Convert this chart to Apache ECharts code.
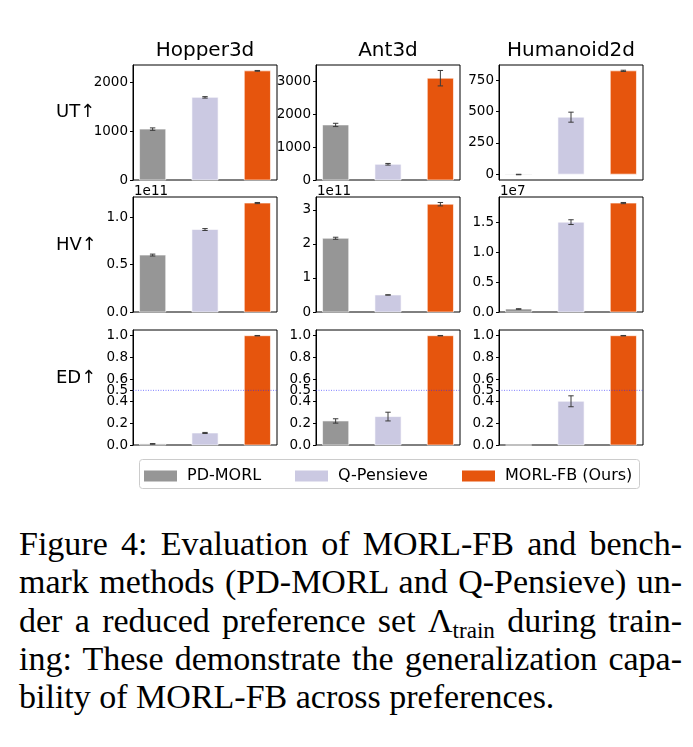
<!DOCTYPE html>
<html>
<head>
<meta charset="utf-8">
<script src="https://cdn.jsdelivr.net/npm/echarts@6/dist/echarts.min.js"></script>
<style>
  html, body { margin: 0; padding: 0; background: #fff; }
  #chart { position: absolute; left: 0; top: 0; width: 693px; height: 505px; }
  #caption {
    position: absolute; left: 19px; top: 525px; width: 663px;
    font-family: "Liberation Serif", serif; font-size: 34px; line-height: 38.3px; color: #000;
  }
  #caption div { white-space: nowrap; text-align: justify; text-align-last: justify; }
  #caption div.last { text-align-last: left; }
  #caption sub { font-size: 0.68em; vertical-align: -0.28em; line-height: 0; }
</style>
</head>
<body>
<div id="chart"></div>
<div id="caption">
  <div>Figure 4: Evaluation of MORL-FB and bench-</div>
  <div>mark methods (PD-MORL and Q-Pensieve) un-</div>
  <div>der a reduced preference set Λ<sub>train</sub> during train-</div>
  <div>ing: These demonstrate the generalization capa-</div>
  <div class="last">bility of MORL-FB across preferences.</div>
</div>
<script>
const envs = ["Hopper3d", "Ant3d", "Humanoid2d"];
const methods = ["PD-MORL", "Q-Pensieve", "MORL-FB (Ours)"];
const metricLabels = ["UT↑", "HV↑", "ED↑"];
const colors = ["#969696", "#cbc9e2", "#e6550d"];

// [env][method]
const utMean = [[1045, 1697, 2241], [1677, 479, 3100], [-3, 455, 825]];
const utErr = [[25, 15, 8], [50, 25, 235], [2, 40, 5]];
const hvMean = [[0.602, 0.872, 1.152], [2.165, 0.50, 3.165], [0.05, 1.508, 1.828]];
const hvErr = [[0.01, 0.01, 0.006], [0.03, 0.005, 0.05], [0.005, 0.04, 0.01]];
const edMean = [[0.01, 0.11, 1.0], [0.22, 0.26, 1.0], [0, 0.40, 1.0]];
const edErr = [[0.003, 0.005, 0.002], [0.02, 0.04, 0.002], [0, 0.05, 0.002]];
const hvScale = ["1e11", "1e11", "1e7"];

const utTicks = [[0, 1000, 2000], [0, 1000, 2000, 3000], [0, 250, 500, 750]];
const hvTicks = [[0, 0.5, 1.0], [0, 1, 2, 3], [0, 0.5, 1.0, 1.5]];
const edTicks = [0, 0.2, 0.4, 0.5, 0.6, 0.8, 1.0];
const edRef = 0.5;

const rows = [
  { mean: utMean, err: utErr, ticks: utTicks, dec: [0, 0, 0] },
  { mean: hvMean, err: hvErr, ticks: hvTicks, dec: [1, 0, 1] },
  { mean: edMean, err: edErr, ticks: [edTicks, edTicks, edTicks], dec: [1, 1, 1] },
];

const gridLeft = [133, 316, 499];
const gridTop = [65, 197, 330];
const gridW = 144, gridH = 115;
const xMin = -0.375, xMax = 2.375;
const font = "DejaVu Sans";

// matplotlib-like autoscale: sticky 0 for bars, 5% margin
function limits(mean, err) {
  let lo = 0, hi = 0;
  mean.forEach((m, i) => { lo = Math.min(lo, m - err[i]); hi = Math.max(hi, m + err[i]); });
  const span = hi - lo;
  return [lo < 0 ? lo - 0.05 * span : 0, hi + 0.05 * span];
}

function barItem(params, api) {
  const x = api.value(0), y = api.value(1), e = api.value(2);
  const a = api.coord([x - 0.25, 0]);
  const b = api.coord([x + 0.25, y]);
  const cx = api.coord([x, 0])[0];
  const lo = api.coord([x, y - e])[1];
  const hi = api.coord([x, y + e])[1];
  const errStyle = { stroke: "#3a3a3a", lineWidth: 1 };
  const children = [
    { type: "rect",
      shape: { x: a[0], y: Math.min(a[1], b[1]), width: b[0] - a[0], height: Math.abs(b[1] - a[1]) },
      style: { fill: api.visual("color"), stroke: "rgba(255,255,255,0.6)", lineWidth: 1 } },
  ];
  if (e > 0) {
    children.push(
      { type: "line", shape: { x1: cx, y1: lo, x2: cx, y2: hi }, style: errStyle },
      { type: "line", shape: { x1: cx - 2.7, y1: lo, x2: cx + 2.7, y2: lo }, style: errStyle },
      { type: "line", shape: { x1: cx - 2.7, y1: hi, x2: cx + 2.7, y2: hi }, style: errStyle });
  }
  return { type: "group", children };
}

function refItem(params, api) {
  const a = api.coord([xMin, api.value(0)]);
  const b = api.coord([xMax, api.value(0)]);
  return {
    type: "line",
    shape: { x1: a[0], y1: a[1], x2: b[0], y2: b[1] },
    style: { stroke: "rgba(40,40,255,0.75)", lineWidth: 0.8, lineDash: [1, 1.5] },
  };
}

const grid = [], xAxis = [], yAxis = [], series = [];
rows.forEach((row, r) => {
  envs.forEach((env, c) => {
    const p = r * 3 + c;
    const [lo, hi] = limits(row.mean[c], row.err[c]);
    grid.push({ left: gridLeft[c], top: gridTop[r], width: gridW, height: gridH,
      show: true, borderColor: "#000", borderWidth: 1, backgroundColor: "transparent" });
    xAxis.push({ type: "value", gridIndex: p, min: xMin, max: xMax, show: false });
    const dec = row.dec[c];
    yAxis.push({
      type: "value", gridIndex: p, min: lo, max: hi, position: "left",
      axisLine: { show: true, onZero: false, lineStyle: { color: "#000", width: 1 } },
      axisTick: { show: true, length: 3, lineStyle: { color: "#000" }, customValues: row.ticks[c] },
      axisLabel: { customValues: row.ticks[c], formatter: v => v.toFixed(dec),
        fontSize: 13.5, fontFamily: font, color: "#000", margin: 5 },
      splitLine: { show: false },
    });
    methods.forEach((m, k) => {
      series.push({
        type: "custom", name: m, xAxisIndex: p, yAxisIndex: p,
        itemStyle: { color: colors[k] },
        renderItem: barItem,
        data: [[k, row.mean[c][k], row.err[c][k]]],
        silent: true,
      });
    });
    if (r === 2) {
      series.push({ type: "custom", name: "ref", xAxisIndex: p, yAxisIndex: p, z: 5,
        renderItem: refItem, data: [[edRef]], silent: true });
    }
  });
});

const legendLeft = [144, 295, 462];
const legend = methods.map((m, k) => ({
  data: [m], left: legendLeft[k], top: 468, padding: 0, itemWidth: 33, itemHeight: 11,
  icon: "rect", selectedMode: false,
  textStyle: { fontSize: 16, fontFamily: font, color: "#000", padding: [0, 0, 0, 5] },
}));

const graphic = [
  { type: "rect", shape: { x: 139.5, y: 459.5, width: 500, height: 29, r: 3 }, z: -1,
    style: { fill: "#fff", stroke: "#cccccc", lineWidth: 1 } },
];
envs.forEach((env, c) => {
  graphic.push({ type: "text", x: gridLeft[c] + gridW / 2, y: 51,
    style: { text: env, fontSize: 20, fontFamily: font, fill: "#000", textAlign: "center", textVerticalAlign: "middle" } });
  graphic.push({ type: "text", x: gridLeft[c] + 1, y: 191,
    style: { text: hvScale[c], fontSize: 13.5, fontFamily: font, fill: "#000", textAlign: "left", textVerticalAlign: "middle" } });
});
const rowLabelY = [112, 245, 378];
metricLabels.forEach((lab, r) => {
  graphic.push({ type: "text", x: 56, y: rowLabelY[r],
    style: { text: lab, fontSize: 18, fontFamily: font, fill: "#000", textAlign: "left", textVerticalAlign: "middle" } });
});

const chart = echarts.init(document.getElementById("chart"), null, { renderer: "canvas" });
chart.setOption({ animation: false, grid, xAxis, yAxis, series, legend, graphic });
</script>
</body>
</html>
